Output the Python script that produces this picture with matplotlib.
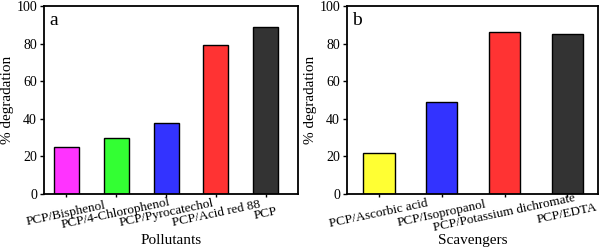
import matplotlib
matplotlib.use("Agg")
import matplotlib.pyplot as plt

plt.rcParams['font.family'] = ['Liberation Serif', 'DejaVu Serif']

pollutants = ['PCP/Bisphenol', 'PCP/4-Chlorophenol', 'PCP/Pyrocatechol', 'PCP/Acid red 88', 'PCP']
pollutant_deg = [25, 30, 38, 79, 89]
pollutant_colors = ['#ff33ff', '#33ff33', '#3333ff', '#ff3333', '#333333']

scavengers = ['PCP/Ascorbic acid', 'PCP/Isopropanol', 'PCP/Potassium dichromate', 'PCP/EDTA']
scavenger_deg = [22, 49, 86, 85]
scavenger_colors = ['#ffff33', '#3333ff', '#ff3333', '#333333']

yticks = [0, 20, 40, 60, 80, 100]

fig = plt.figure(figsize=(6, 2.5), dpi=100)
ax1 = fig.add_axes([44/600, 1 - 194/250, 254/600, 188/250])
ax2 = fig.add_axes([347/600, 1 - 194/250, 251/600, 188/250])

def panel(ax, names, vals, colors, xlab, letter, xlim):
    x = list(range(len(names)))
    ax.bar(x, vals, width=0.5, color=colors, edgecolor='black', linewidth=1)
    ax.set_xlim(*xlim)
    ax.set_ylim(0, 100)
    ax.set_yticks(yticks)
    ax.set_xticks(x)
    ax.set_xticklabels(names, rotation=12, ha='center', va='center',
                       rotation_mode='anchor', fontsize=9.5)
    ax.tick_params(axis='y', labelsize=10, length=3, width=1, pad=2)
    ax.tick_params(axis='x', length=2, width=1, pad=12)
    ax.set_ylabel('% degradation', fontsize=11, labelpad=2)
    ax.set_xlabel(xlab, fontsize=11)
    ax.xaxis.set_label_coords(0.5, -0.215)
    for s in ax.spines.values():
        s.set_linewidth(1.3)
    ax.text(0.02, 0.97, letter, transform=ax.transAxes, fontsize=14, va='top', ha='left')

panel(ax1, pollutants, pollutant_deg, pollutant_colors, 'Pollutants', 'a', (-0.44, 4.64))
panel(ax2, scavengers, scavenger_deg, scavenger_colors, 'Scavengers', 'b', (-0.51, 3.49))

fig.savefig('out.png', dpi=100)
